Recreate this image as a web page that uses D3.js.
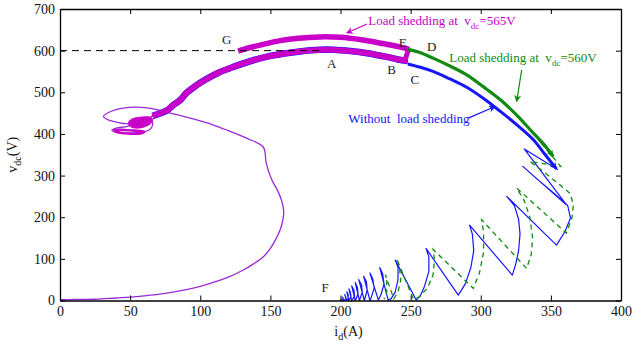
<!DOCTYPE html>
<html>
<head>
<meta charset="utf-8">
<script src="https://cdn.jsdelivr.net/npm/d3@7"></script>
<style>
  body { margin: 0; background: #fff; }
  svg { display: block; }
  svg text { font-family: "Liberation Serif", "Times New Roman", serif; white-space: pre; }
</style>
</head>
<body>
<script>
// ticks
const xTicks = [0, 50, 100, 150, 200, 250, 300, 350, 400];
const yTicks = [0, 100, 200, 300, 400, 500, 600, 700];
const refVdc = 600;
const refEnd = 187;

// trajectories as [id (A), vdc (V)]
const startupPath = [
  [0, 2], [10, 2.5], [25, 3], [40, 6], [50, 8], [60, 11], [75, 17], [90, 26], [100, 34],
  [110, 44], [120, 56], [130, 72], [138, 88], [145, 105], [150, 125], [154, 148],
  [157, 170], [159, 195], [159.5, 215], [158, 240], [155, 265], [151, 290], [147, 330],
  [145, 368], [133, 390], [120, 408], [109, 422], [95, 436], [81, 448], [70, 458],
  [58, 464], [45, 462], [35, 452], [31, 442], [33, 436], [38, 430], [45, 425], [52, 424],
  [48, 418], [40, 414], [37, 409], [41, 404], [50, 402], [60, 405], [65, 414], [66, 428],
  [64, 438], [69, 448], [76, 456], [81, 466]
];
const blobPath = [
  [49, 430], [52, 437], [57, 440], [63, 441], [66, 436], [65, 426], [61, 418],
  [56, 414], [51, 416], [49, 422]
];
const blobLoop = [
  [38, 408], [43, 410], [52, 408], [60, 405], [57, 401], [48, 401], [41, 404], [38, 408]
];
const lowerBand = [
  [66, 443], [76, 456], [81, 470], [86, 482], [90, 498], [97, 516], [104.6, 532],
  [113, 547], [123.6, 561], [135, 574], [147, 585], [160, 593], [171, 598], [185, 602],
  [195, 602], [207, 599], [219, 594], [233, 585], [241, 579], [248, 575]
];
const upperBand = [
  [127, 599], [135, 607], [145, 615], [157, 624], [170, 630], [185, 633], [200, 632],
  [215, 626], [230, 617], [242, 609], [249, 603]
];
const junction = [[246, 578], [247, 588], [248, 598], [249, 604]];
const greenBand = [
  [248, 603], [256, 596], [266, 582], [278, 563], [290, 542], [302, 513], [314, 482],
  [326, 444], [337.5, 402], [345, 375], [351.6, 346]
];
const blueBand = [
  [248, 568], [257, 560], [266, 550], [278, 532], [290, 512], [302, 485], [314, 454],
  [326, 421], [337.5, 386], [346, 350], [354, 316]
];
const blueSpiral = [
  [355, 314], [331, 364], [361, 230], [330, 322], [340, 292], [352, 258], [362, 228],
  [364, 198], [360, 165], [354, 133],
  [318.5, 250], [324, 228], [327, 195], [328, 160], [327, 120], [325, 88], [322.5, 61],
  [292, 181], [294, 160], [295, 120], [293, 80], [289, 40], [284, 13],
  [261, 125], [263, 105], [263, 70], [260, 35], [257, 12], [254, 1],
  [239, 97], [241, 80], [241, 50], [239, 20], [236, 4], [234, 1],
  [228, 79], [230, 65], [231, 40], [229, 15], [227, 1],
  [221, 66], [223, 52], [224, 30], [222, 8], [221, 0],
  [216.5, 58], [218.5, 45], [219, 25], [217.5, 6], [217, 0],
  [213, 50], [215, 38], [215.5, 20], [214, 5], [213.5, 0],
  [210.5, 43], [212, 32], [212.5, 16], [211, 3], [210.5, 0],
  [208, 35], [209.5, 26], [210, 12], [208.5, 2], [208, 0],
  [206, 28], [207, 20], [207.5, 9], [206, 0],
  [204.5, 21], [205.5, 14], [205.5, 6], [204.5, 0],
  [203, 14], [203.8, 9], [203.5, 3], [202.5, 0],
  [201.5, 8], [202, 3], [201, 0], [200.5, 3], [200, 0]
];
const greenSpiral = [
  [352, 346], [341, 386], [357, 322], [335, 334], [346, 306], [357, 276], [364, 256],
  [366, 228], [365, 198], [361, 162],
  [325.6, 270], [331, 240], [335, 200], [337, 150], [336, 110], [332.7, 77],
  [300.6, 194], [302, 165], [302, 115], [299, 65], [294.7, 29],
  [266, 123], [267, 98], [266, 62], [262, 30], [256, 8], [252, 3],
  [240, 101], [242, 80], [243, 50], [241, 20], [238, 4],
  [232, 62], [233, 45], [233, 20], [231, 3]
];

// point labels
const pointLabels = [
  { t: "G", p: [118.8, 626] }, { t: "A", p: [193.7, 570] }, { t: "E", p: [244.3, 620] },
  { t: "D", p: [265, 609] }, { t: "B", p: [236.5, 554] }, { t: "C", p: [253, 532] },
  { t: "F", p: [189, 32] }
];

const width = 632, height = 352;
const x = d3.scaleLinear().domain([0, 400]).range([60, 621]);
const y = d3.scaleLinear().domain([0, 700]).range([300.5, 9]);
const font = "Liberation Serif, Times New Roman, serif";

const magenta = "#c800c8", blue = "#1515ff", green = "#108a10", violet = "#9a2ad8";

const svg = d3.select("body").append("svg")
  .attr("width", width).attr("height", height);

const defs = svg.append("defs");
function arrowMarker(id, color) {
  defs.append("marker").attr("id", id)
    .attr("viewBox", "0 0 10 10").attr("refX", 9).attr("refY", 5)
    .attr("markerWidth", 7).attr("markerHeight", 7)
    .attr("markerUnits", "userSpaceOnUse")
    .attr("orient", "auto")
    .append("path").attr("d", "M0,0 L10,5 L0,10 L3,5 Z").attr("fill", color);
}
arrowMarker("arM", magenta);
arrowMarker("arG", green);
arrowMarker("arB", blue);

const line = d3.line().x(d => x(d[0])).y(d => y(d[1]));
const smooth = d3.line().x(d => x(d[0])).y(d => y(d[1])).curve(d3.curveCatmullRom.alpha(0.5));

const plot = svg.append("g");

// startup trajectory
plot.append("path").attr("d", smooth(startupPath))
  .attr("fill", "none").attr("stroke", violet).attr("stroke-width", 1.3);

// blue under the common band
plot.append("path").attr("d", smooth(lowerBand))
  .attr("fill", "none").attr("stroke", blue).attr("stroke-width", 6.6);

// magenta parts
plot.append("path").attr("d", smooth(blobPath) + "Z")
  .attr("fill", magenta).attr("stroke", magenta).attr("stroke-width", 1);
plot.append("path").attr("d", smooth(blobLoop))
  .attr("fill", "none").attr("stroke", magenta).attr("stroke-width", 2.5);
plot.append("path").attr("d", smooth(lowerBand))
  .attr("fill", "none").attr("stroke", magenta).attr("stroke-width", 5.8);
plot.append("path").attr("d", smooth(upperBand))
  .attr("fill", "none").attr("stroke", magenta).attr("stroke-width", 5.5);
plot.append("path").attr("d", line(junction))
  .attr("fill", "none").attr("stroke", magenta).attr("stroke-width", 5);

// blue and green after the split
plot.append("path").attr("d", line(blueSpiral))
  .attr("fill", "none").attr("stroke", blue).attr("stroke-width", 1.2)
  .attr("stroke-linejoin", "round");
plot.append("path").attr("d", line(greenSpiral))
  .attr("fill", "none").attr("stroke", green).attr("stroke-width", 1.3)
  .attr("stroke-dasharray", "5,4");
plot.append("path").attr("d", smooth(greenBand))
  .attr("fill", "none").attr("stroke", green).attr("stroke-width", 3.2)
  .attr("marker-end", "url(#arG)");
plot.append("path").attr("d", smooth(blueBand))
  .attr("fill", "none").attr("stroke", blue).attr("stroke-width", 3)
  .attr("marker-end", "url(#arB)");

// reference 600 V line
plot.append("line")
  .attr("x1", x(0)).attr("x2", x(refEnd))
  .attr("y1", y(refVdc)).attr("y2", y(refVdc))
  .attr("stroke", "#000").attr("stroke-width", 1)
  .attr("stroke-dasharray", "7,5");

// point letters
plot.selectAll(".pt").data(pointLabels).join("text")
  .attr("x", d => x(d.p[0])).attr("y", d => y(d.p[1]))
  .attr("dy", "0.35em").attr("text-anchor", "middle")
  .attr("font-size", 13).attr("fill", "#222")
  .text(d => d.t);

// annotations
function annot(pos, color, parts) {
  const t = plot.append("text").attr("x", x(pos[0])).attr("y", y(pos[1]))
    .attr("dy", "0.35em").attr("font-size", 13).attr("fill", color);
  parts.forEach(p => {
    const s = t.append("tspan").text(p.s);
    if (p.sub) s.attr("font-size", 9).attr("dy", 4);
    if (p.up) s.attr("dy", -4);
  });
}
annot([219.8, 672], magenta, [{ s: "Load shedding at  v" }, { s: "dc", sub: true }, { s: "=565V", up: true }]);
annot([277.6, 583], green, [{ s: "Load shedding at  v" }, { s: "dc", sub: true }, { s: "=560V", up: true }]);
annot([205.6, 438], blue, [{ s: "Without  load shedding" }]);

function arrow(from, to, color, id) {
  plot.append("line")
    .attr("x1", x(from[0])).attr("y1", y(from[1]))
    .attr("x2", x(to[0])).attr("y2", y(to[1]))
    .attr("stroke", color).attr("stroke-width", 1.2)
    .attr("marker-end", `url(#${id})`);
}
arrow([218.9, 664], [204.4, 642.3], magenta, "arM");
arrow([329.2, 554], [325.6, 478], green, "arG");
arrow([291.1, 438], [310.2, 465.9], blue, "arB");

// axes
const axisStyle = g => {
  g.attr("font-family", font).attr("font-size", 14).attr("color", "#000");
  g.selectAll("text").attr("font-family", font).attr("fill", "#111");
  g.selectAll(".domain").attr("stroke-width", 1.3);
};
svg.append("g").attr("transform", `translate(0,${y(0)})`)
  .call(d3.axisBottom(x).tickValues(xTicks).tickSizeInner(-5).tickSizeOuter(0).tickPadding(6))
  .call(axisStyle);
svg.append("g").attr("transform", `translate(${x(0)},0)`)
  .call(d3.axisLeft(y).tickValues(yTicks).tickSizeInner(-5).tickSizeOuter(0).tickPadding(5))
  .call(axisStyle);
svg.append("g").attr("transform", `translate(0,${y(700)})`)
  .call(d3.axisTop(x).tickValues(xTicks).tickSizeInner(-5).tickSizeOuter(0).tickFormat(""))
  .call(axisStyle);
svg.append("g").attr("transform", `translate(${x(400)},0)`)
  .call(d3.axisRight(y).tickValues(yTicks).tickSizeInner(-5).tickSizeOuter(0).tickFormat(""))
  .call(axisStyle);

// axis titles
const xt = svg.append("text").attr("x", (x(0) + x(400)) / 2 + 8).attr("y", 336)
  .attr("text-anchor", "middle").attr("font-size", 14).attr("fill", "#111");
xt.append("tspan").text("i");
xt.append("tspan").text("d").attr("font-size", 10).attr("dy", 4);
xt.append("tspan").text("(A)").attr("dy", -4);

const yt = svg.append("text")
  .attr("transform", `translate(17,${(y(0) + y(700)) / 2}) rotate(-90)`)
  .attr("text-anchor", "middle").attr("font-size", 14).attr("fill", "#111");
yt.append("tspan").text("v");
yt.append("tspan").text("dc").attr("font-size", 10).attr("dy", 4);
yt.append("tspan").text("(V)").attr("dy", -4);
</script>
</body>
</html>
